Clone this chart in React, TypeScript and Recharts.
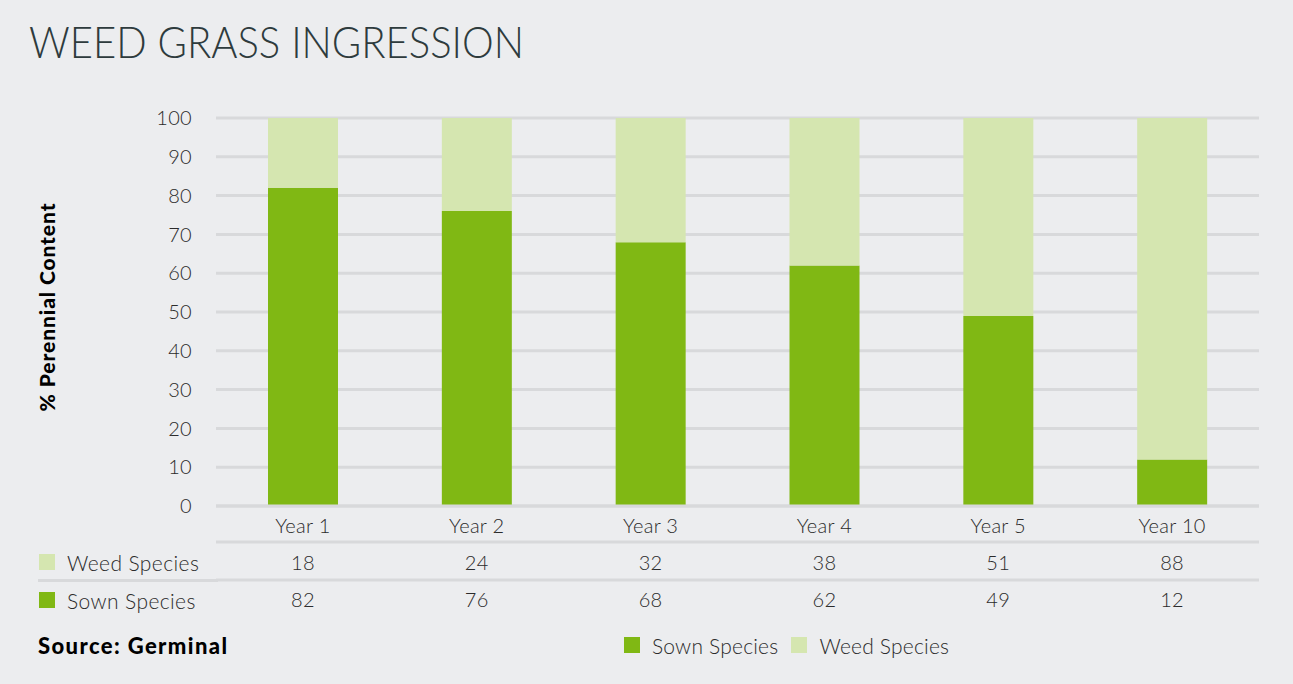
import React from 'react'
import { BarChart, Bar, XAxis, YAxis, CartesianGrid } from 'recharts'

const categories = ['Year 1', 'Year 2', 'Year 3', 'Year 4', 'Year 5', 'Year 10']
const sownSpecies = [82, 76, 68, 62, 49, 12]
const weedSpecies = [18, 24, 32, 38, 51, 88]
const yTicks = [0, 10, 20, 30, 40, 50, 60, 70, 80, 90, 100]

const SOWN_COLOR = '#80b814'
const WEED_COLOR = '#d5e6b0'
const GRID_COLOR = '#d8d9db'
const BG = '#ecedef'
const TEXT = '#2b2b2b'
const FONT = 'Lato, "Open Sans", sans-serif'

const data = categories.map((name, i) => ({
  name,
  sown: sownSpecies[i],
  weed: weedSpecies[i],
}))

const tickStyle = { fill: TEXT, fontSize: 20, fontFamily: FONT, fontWeight: 300, letterSpacing: 0.3 }
const axisLine = { stroke: GRID_COLOR, strokeWidth: 3 }

// series for table rows and the bottom legend
const tableRows = [
  { label: 'Weed Species', color: WEED_COLOR, values: weedSpecies },
  { label: 'Sown Species', color: SOWN_COLOR, values: sownSpecies },
]
const legendItems = [
  { label: 'Sown Species', color: SOWN_COLOR },
  { label: 'Weed Species', color: WEED_COLOR },
]

export default function App() {
  return (
    <div
      style={{
        position: 'relative',
        width: 1293,
        height: 684,
        background: BG,
        fontFamily: FONT,
        color: TEXT,
        overflow: 'hidden',
      }}
    >
      <style>{`body{margin:0;background:${BG}}`}</style>

      <div
        style={{
          position: 'absolute',
          left: 29,
          top: 19,
          fontSize: 44,
          fontWeight: 300,
          color: '#2e3b3d',
          whiteSpace: 'nowrap',
          lineHeight: 1,
          transform: 'scaleX(0.91)',
          transformOrigin: 'left top',
        }}
      >
        WEED GRASS INGRESSION
      </div>

      <div
        style={{
          position: 'absolute',
          left: 46,
          top: 307,
          transform: 'translate(-50%, -50%) rotate(-90deg)',
          fontSize: 21,
          fontWeight: 900,
          letterSpacing: 0.9,
          color: '#000',
          whiteSpace: 'nowrap',
        }}
      >
        % Perennial Content
      </div>

      <BarChart
        width={1293}
        height={684}
        data={data}
        margin={{ top: 118, right: 34, left: 156, bottom: 66 }}
        barSize={70}
        style={{ position: 'absolute', left: 0, top: 0 }}
      >
        <CartesianGrid vertical={false} stroke={GRID_COLOR} strokeWidth={3} />
        <YAxis
          domain={[0, 100]}
          ticks={yTicks}
          interval={0}
          width={60}
          axisLine={false}
          tickLine={false}
          tickSize={6}
          tickMargin={18}
          tick={tickStyle}
        />
        <XAxis
          dataKey="name"
          height={36}
          interval={0}
          axisLine={axisLine}
          tickLine={false}
          tickSize={6}
          tickMargin={7}
          tick={tickStyle}
        />
        <XAxis
          xAxisId="row1"
          dataKey="name"
          height={38}
          interval={0}
          axisLine={axisLine}
          tickLine={false}
          tickSize={6}
          tickMargin={8}
          tick={tickStyle}
          tickFormatter={(_v: string, i: number) => String(tableRows[0].values[i])}
        />
        <XAxis
          xAxisId="row2"
          dataKey="name"
          height={38}
          interval={0}
          axisLine={axisLine}
          tickLine={false}
          tickSize={6}
          tickMargin={7}
          tick={tickStyle}
          tickFormatter={(_v: string, i: number) => String(tableRows[1].values[i])}
        />
        <Bar dataKey="sown" name="Sown Species" stackId="a" fill={SOWN_COLOR} isAnimationActive={false} />
        <Bar dataKey="weed" name="Weed Species" stackId="a" fill={WEED_COLOR} isAnimationActive={false} />
      </BarChart>

      {/* left part of the line under the first table row */}
      <div style={{ position: 'absolute', left: 38, top: 578.5, width: 180, height: 3, background: GRID_COLOR }} />

      {tableRows.map((row, i) => (
        <div
          key={row.label}
          style={{
            position: 'absolute',
            left: 39,
            top: 550 + i * 38,
            height: 24,
            display: 'flex',
            alignItems: 'center',
            fontSize: 21,
            fontWeight: 300,
            letterSpacing: 0.4,
            whiteSpace: 'nowrap',
          }}
        >
          <div style={{ width: 16, height: 16, background: row.color, marginRight: 12 }} />
          {row.label}
        </div>
      ))}

      <div
        style={{
          position: 'absolute',
          left: 38,
          top: 632,
          fontSize: 22,
          fontWeight: 900,
          letterSpacing: 1.4,
          color: '#000',
          whiteSpace: 'nowrap',
        }}
      >
        Source: Germinal
      </div>

      <div
        style={{
          position: 'absolute',
          left: 624,
          top: 633,
          height: 24,
          display: 'flex',
          alignItems: 'center',
          fontSize: 21,
          fontWeight: 300,
          letterSpacing: 0.2,
          whiteSpace: 'nowrap',
        }}
      >
        {legendItems.map((item) => (
          <div key={item.label} style={{ display: 'flex', alignItems: 'center', marginRight: 13 }}>
            <div style={{ width: 16, height: 16, background: item.color, marginRight: 12 }} />
            {item.label}
          </div>
        ))}
      </div>
    </div>
  )
}
